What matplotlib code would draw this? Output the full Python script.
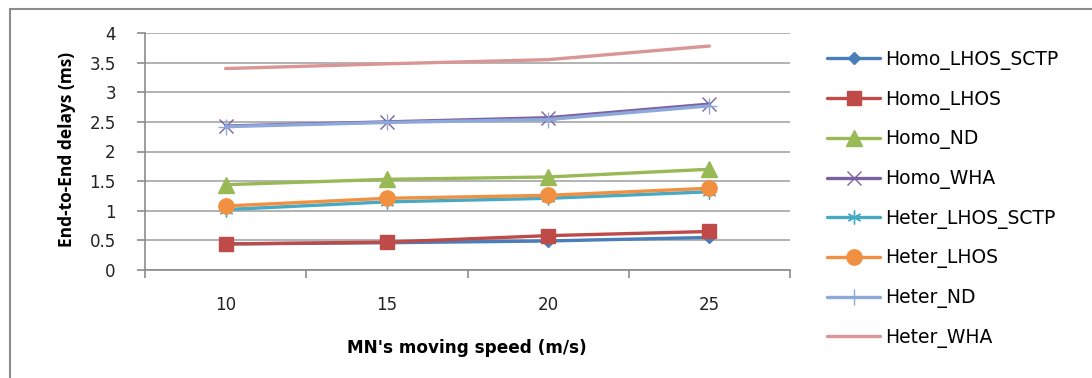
import matplotlib
matplotlib.use("Agg")
import matplotlib.pyplot as plt
from matplotlib.patches import Rectangle

categories = ["10", "15", "20", "25"]
series_names = ["Homo_LHOS_SCTP", "Homo_LHOS", "Homo_ND", "Homo_WHA",
                "Heter_LHOS_SCTP", "Heter_LHOS", "Heter_ND", "Heter_WHA"]
homo_lhos_sctp = [0.44, 0.46, 0.49, 0.55]
homo_lhos = [0.44, 0.47, 0.58, 0.65]
homo_nd = [1.44, 1.53, 1.57, 1.70]
homo_wha = [2.43, 2.50, 2.57, 2.80]
heter_lhos_sctp = [1.02, 1.15, 1.21, 1.32]
heter_lhos = [1.08, 1.21, 1.26, 1.38]
heter_nd = [2.42, 2.49, 2.54, 2.77]
heter_wha = [3.40, 3.48, 3.55, 3.78]
yticks = [0, 0.5, 1, 1.5, 2, 2.5, 3, 3.5, 4]
ytick_labels = ["0", "0.5", "1", "1.5", "2", "2.5", "3", "3.5", "4"]

values = [homo_lhos_sctp, homo_lhos, homo_nd, homo_wha,
          heter_lhos_sctp, heter_lhos, heter_nd, heter_wha]
styles = [
    dict(color="#4A7EBB", marker="D", markersize=6.5),
    dict(color="#BE4B48", marker="s", markersize=10),
    dict(color="#98B954", marker="^", markersize=11),
    dict(color="#7D60A0", marker="x", markersize=10, markeredgewidth=1.0),
    dict(color="#46AAC5", marker=(6, 2, 0), markersize=10, markeredgewidth=1.0),
    dict(color="#F09040", marker="o", markersize=11),
    dict(color="#8DA9DB", marker="+", markersize=11, markeredgewidth=1.0),
    dict(color="#D99694", marker=None),
]

plt.rcParams['font.family'] = ['DejaVu Sans']

W, H = 1092, 378
fig = plt.figure(figsize=(W / 100, H / 100), dpi=100)

# chart border (only top-left visible)
fig.patches.append(Rectangle((10 / W, -0.1), 1.2, (H - 9) / H + 0.1,
                             transform=fig.transFigure, fill=False,
                             edgecolor="#8c8c8c", linewidth=1.5))

ax = fig.add_axes([145 / W, (H - 270) / H, 645 / W, 237 / H])
x = list(range(len(categories)))
for name, vals, st in zip(series_names, values, styles):
    ax.plot(x, vals, label=name, linewidth=2.4, solid_capstyle="round", **st)

ax.set_xlim(-0.5, len(categories) - 0.5)
ax.set_ylim(0, 4)
ax.set_yticks(yticks)
ax.set_yticklabels(ytick_labels)
ax.yaxis.grid(True, color="#a6a6a6", linewidth=1.2)
ax.set_axisbelow(True)

ax.set_xticks([i - 0.5 for i in range(len(categories) + 1)])
ax.set_xticklabels([])
ax.set_xticks(x, minor=True)
ax.set_xticklabels(categories, minor=True)
ax.tick_params(axis="x", which="minor", length=0, pad=19, labelsize=12, labelcolor="#222222")
ax.tick_params(axis="x", which="major", length=6, width=1.2, color="#8c8c8c", direction="out")
ax.tick_params(axis="y", length=6, width=1.2, color="#8c8c8c", pad=15, labelsize=12, labelcolor="#222222")

for s in ["top", "right"]:
    ax.spines[s].set_visible(False)
for s in ["left", "bottom"]:
    ax.spines[s].set_color("#8c8c8c")
    ax.spines[s].set_linewidth(1.2)

fig.text(67 / W, 1 - 149 / H, "End-to-End delays (ms)", rotation=90,
         ha="center", va="center", fontsize=12.5, fontweight="bold",
         family=["Open Sans", "DejaVu Sans"])
fig.text(467 / W, 1 - 348 / H, "MN's moving speed (m/s)",
         ha="center", va="center", fontsize=12.2, fontweight="bold")

fig.legend(loc="upper left", bbox_to_anchor=(827 / W, 1 - 50 / H), frameon=False,
           fontsize=13.5, handlelength=2.85, labelspacing=1.05, handletextpad=0.25,
           borderaxespad=0, borderpad=0)

fig.savefig("out.png", dpi=100)
